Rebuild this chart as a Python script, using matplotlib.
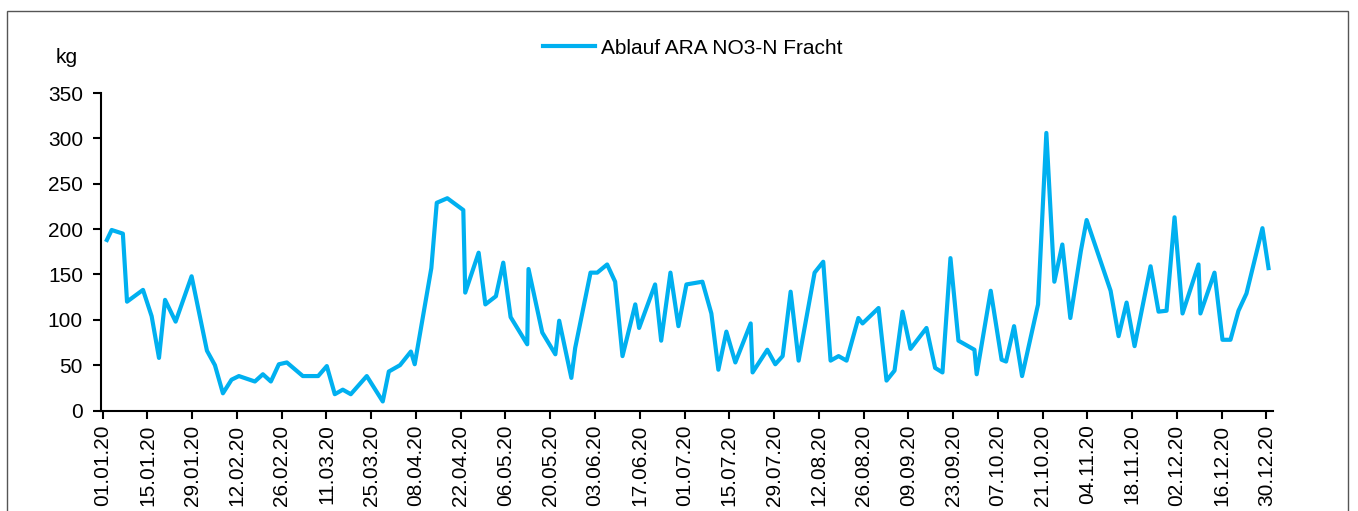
import datetime as dt
import matplotlib
matplotlib.use("Agg")
import matplotlib.pyplot as plt
import matplotlib.dates as mdates
from matplotlib.patches import Rectangle

# Tage seit 01.01.20 und Fracht in kg
tage = [1.3, 2.8, 6.3, 7.6, 12.6, 15.3, 17.6, 19.5, 22.8, 27.8,
        32.6, 35.1, 37.6, 40.3, 42.6, 47.6, 50.1, 52.6, 55.1, 57.6,
        62.6, 67.4, 70.1, 72.6, 75.1, 77.6, 82.6, 87.6, 89.5, 93.0,
        96.4, 97.6, 102.8, 104.5, 107.8, 112.8, 113.4, 117.6, 119.7, 123.0,
        125.3, 127.6, 132.8, 133.2, 137.5, 141.6, 142.8, 146.6, 147.8, 152.6,
        154.7, 157.8, 160.3, 162.6, 166.6, 167.8, 172.8, 174.7, 177.6, 180.1,
        182.6, 187.6, 190.4, 192.6, 195.1, 197.9, 202.7, 203.3, 207.9, 210.4,
        212.7, 215.2, 217.7, 222.7, 225.4, 227.7, 230.2, 232.7, 236.4, 237.7,
        242.7, 245.2, 247.7, 250.2, 252.7, 257.7, 260.4, 262.7, 265.2, 267.7,
        272.7, 273.4, 277.8, 281.2, 282.6, 285.1, 287.6, 292.6, 295.2, 297.7,
        300.2, 302.7, 306.0, 307.8, 315.3, 317.8, 320.3, 322.8, 327.8, 330.3,
        332.8, 335.3, 337.8, 342.8, 343.4, 347.8, 350.3, 352.8, 355.3, 357.8,
        362.8, 364.7]
fracht = [188, 199, 195, 120, 133, 104, 58, 122, 98, 148,
          66, 50, 19, 34, 38, 32, 40, 32, 51, 53,
          38, 38, 49, 18, 23, 18, 38, 10, 43, 50,
          65, 51, 157, 229, 234, 221, 130, 174, 117, 126,
          163, 103, 73, 156, 86, 62, 99, 36, 69, 152,
          152, 161, 142, 60, 117, 91, 139, 77, 152, 93,
          139, 142, 107, 45, 87, 53, 96, 42, 67, 51,
          60, 131, 55, 152, 164, 55, 60, 55, 102, 96,
          113, 33, 44, 109, 68, 91, 47, 42, 168, 77,
          67, 40, 132, 56, 54, 93, 38, 117, 306, 142,
          183, 102, 176, 210, 132, 82, 119, 71, 159, 109,
          110, 213, 107, 161, 107, 152, 78, 78, 110, 129,
          201, 157]

plt.rcParams['font.family'] = ['Liberation Sans', 'DejaVu Sans']

start = mdates.date2num(dt.datetime(2020, 1, 1))
x = [start + t for t in tage]

fig = plt.figure(figsize=(13.58, 5.11), dpi=100)
ax = fig.add_axes([0.0744, 0.1966, 0.863, 0.6214])

# Rahmen um das Diagramm
fig.patches.append(Rectangle((7 / 1358, -0.1), 1341 / 1358, 1.1 - 11 / 511,
                             transform=fig.transFigure, fill=False,
                             edgecolor='#555555', linewidth=1))

ax.plot(x, fracht, color='#00B0F0', linewidth=3, label='Ablauf ARA NO3-N Fracht',
        solid_joinstyle='round')

ax.set_ylim(0, 350)
ax.set_yticks(range(0, 351, 50))
ax.set_xlim(start - 0.53, start + 366.1)
ticks = [start + 14 * i for i in range(27)]
ax.set_xticks(ticks)
ax.xaxis.set_major_formatter(mdates.DateFormatter('%d.%m.%y'))

for s in ['top', 'right']:
    ax.spines[s].set_visible(False)
for s in ['left', 'bottom']:
    ax.spines[s].set_linewidth(1.5)
ax.tick_params(axis='both', direction='out', width=1.5, length=5.5, labelsize=15)
ax.tick_params(axis='x', rotation=90, pad=4.5)
ax.tick_params(axis='y', pad=7.5)

fig.text(0.0410, 0.887, 'kg', fontsize=15, ha='left', va='center')

ax.legend(loc='upper center', bbox_to_anchor=(0.505, 1.23), frameon=False,
          fontsize=15, handlelength=2.5, handletextpad=0.3)

fig.savefig('out.png', dpi=100)
